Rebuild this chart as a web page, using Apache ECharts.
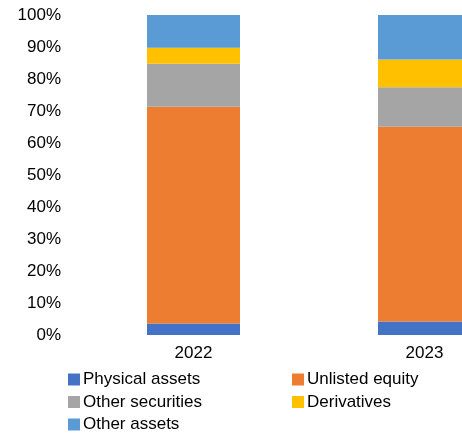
<!DOCTYPE html>
<html><head><meta charset="utf-8">
<script src="https://cdn.jsdelivr.net/npm/echarts@6/dist/echarts.min.js"></script>
<style>html,body{margin:0;padding:0;background:#fff}#c{width:462px;height:433px}</style>
</head><body><div id="c"></div>
<script>
const categories = ['2022', '2023'];
const physicalAssets = [3.6, 4.2];
const unlistedEquity = [67.7, 60.9];
const otherSecurities = [13.5, 12.3];
const derivatives = [5.0, 8.7];
const otherAssets = [10.2, 13.9];
const yTicks = [0, 10, 20, 30, 40, 50, 60, 70, 80, 90, 100];

const names = ['Physical assets', 'Unlisted equity', 'Other securities', 'Derivatives', 'Other assets'];
const colors = ['#4472C4', '#ED7D31', '#A5A5A5', '#FFC000', '#5B9BD5'];
const values = [physicalAssets, unlistedEquity, otherSecurities, derivatives, otherAssets];

const font = 'Liberation Sans, Arial, sans-serif';
const legendText = { color: '#000', fontSize: 17, fontFamily: font, lineHeight: 17, padding: [0, 0, 0, -2] };
const chart = echarts.init(document.getElementById('c'));
chart.setOption({
  animation: false,
  color: colors,
  grid: { left: 78, top: 15, right: -78, bottom: 98, outerBoundsMode: 'none', containLabel: false },
  xAxis: {
    type: 'category', data: categories,
    axisLine: { show: false }, axisTick: { show: false },
    axisLabel: { color: '#000', fontSize: 17, fontFamily: font, margin: 10 }
  },
  yAxis: {
    type: 'value', min: yTicks[0], max: yTicks[yTicks.length - 1], interval: 10,
    splitLine: { show: false }, axisLine: { show: false }, axisTick: { show: false },
    axisLabel: { color: '#000', fontSize: 17, fontFamily: font, margin: 17, formatter: '{value}%' }
  },
  legend: [
    {
      orient: 'vertical', left: 63, top: 366, height: 70, padding: 5, itemWidth: 12, itemHeight: 12, itemGap: 5.5,
      icon: 'rect', data: [names[0], names[2], names[4]], textStyle: legendText
    },
    {
      orient: 'vertical', left: 287, top: 366, height: 70, padding: 5, itemWidth: 12, itemHeight: 12, itemGap: 5.5,
      icon: 'rect', data: [names[1], names[3]], textStyle: legendText
    }
  ],
  series: names.map((n, i) => ({
    name: n, type: 'bar', stack: 'total', barWidth: 93, data: values[i],
    itemStyle: { color: colors[i] }
  }))
});
</script></body></html>
